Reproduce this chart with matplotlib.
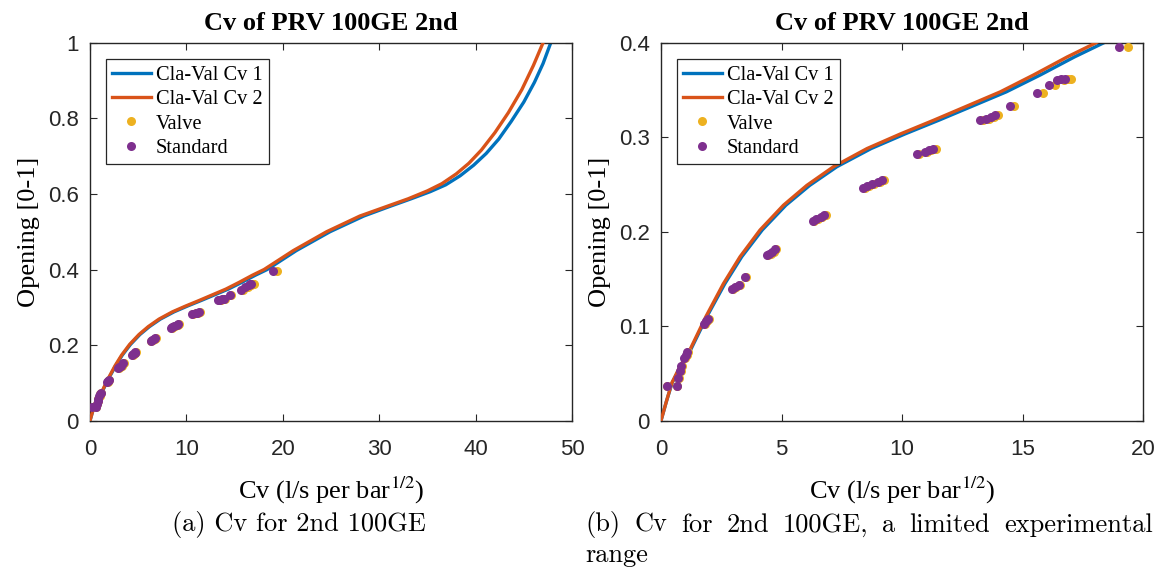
import matplotlib
matplotlib.use("Agg")
import matplotlib.pyplot as plt

# ---------------- data ----------------
# Cla-Val Cv 1 (blue)
cv1_x = [0, 0.22, 0.46, 0.82, 1.23, 1.9, 2.65, 3.35, 4.2, 5.18, 6.17, 7.3, 8.72, 10.12,
         11.53, 12.93, 14.33, 15.75, 17.16, 18.38, 21.4, 24.9, 28.4, 31.0, 33.3, 35.3,
         36.9, 38.4, 39.8, 41.1, 42.4, 43.7, 45.0, 46.1, 47.0, 47.8]
cv1_y = [0, 0.02, 0.04, 0.058, 0.075, 0.110, 0.145, 0.1735, 0.2018, 0.228, 0.249, 0.2688,
         0.288, 0.3034, 0.318, 0.333, 0.348, 0.366, 0.385, 0.400, 0.450, 0.500, 0.5415,
         0.566, 0.587, 0.606, 0.624, 0.648, 0.676, 0.707, 0.745, 0.792, 0.843, 0.895,
         0.945, 1.0]
# Cla-Val Cv 2 (orange)
cv2_x = [0, 0.22, 0.45, 0.8, 1.2, 1.86, 2.59, 3.28, 4.11, 5.08, 6.05, 7.16, 8.55, 9.93,
         11.32, 12.7, 14.08, 15.47, 16.86, 18.06, 21.09, 24.55, 28.0, 31.46, 33.0, 35.0,
         36.5, 38.0, 39.3, 40.6, 42.0, 43.4, 44.8, 46.0, 47.0]
cv2_y = [0, 0.02, 0.04, 0.058, 0.075, 0.110, 0.145, 0.1735, 0.2018, 0.228, 0.249, 0.2688,
         0.288, 0.3034, 0.318, 0.333, 0.348, 0.366, 0.385, 0.400, 0.450, 0.500, 0.5415,
         0.573, 0.587, 0.608, 0.627, 0.653, 0.681, 0.716, 0.762, 0.815, 0.876, 0.940, 1.0]

# Measured points
standard_x = [0.24, 0.65, 0.72, 0.79, 0.85, 0.97, 1.05, 1.09, 1.78, 1.85, 1.94, 2.95, 3.05,
              3.22, 3.47, 4.40, 4.50, 4.62, 4.71, 6.30, 6.45, 6.62, 6.75, 8.40, 8.55, 8.75,
              9.00, 9.17, 10.62, 10.95, 11.10, 11.30, 13.25, 13.50, 13.70, 13.85, 14.50,
              15.62, 16.10, 16.45, 16.60, 16.75, 19.00]
standard_y = [0.037, 0.037, 0.045, 0.053, 0.058, 0.066, 0.070, 0.073, 0.102, 0.105, 0.108,
              0.139, 0.141, 0.144, 0.152, 0.175, 0.176, 0.179, 0.182, 0.211, 0.213, 0.216,
              0.218, 0.246, 0.248, 0.251, 0.253, 0.255, 0.282, 0.284, 0.286, 0.288, 0.318,
              0.319, 0.321, 0.323, 0.333, 0.347, 0.355, 0.360, 0.362, 0.362, 0.395]
valve_x = [0.26, 0.67, 0.74, 0.81, 0.87, 0.99, 1.07, 1.12, 1.82, 1.89, 1.98, 3.00, 3.10,
           3.27, 3.52, 4.45, 4.56, 4.68, 4.78, 6.36, 6.52, 6.70, 6.84, 8.47, 8.62, 8.83,
           9.08, 9.26, 10.70, 11.04, 11.20, 11.42, 13.36, 13.62, 13.82, 14.00, 14.66,
           15.84, 16.36, 16.72, 16.90, 17.02, 19.38]
valve_y = standard_y

titles = ["Cv of PRV 100GE 2nd", "Cv of PRV 100GE 2nd"]
xlims = [(0, 50), (0, 20)]
ylims = [(0, 1), (0, 0.4)]
xticks = [[0, 10, 20, 30, 40, 50], [0, 5, 10, 15, 20]]
yticks = [[0, 0.2, 0.4, 0.6, 0.8, 1.0], [0, 0.1, 0.2, 0.3, 0.4]]
yticklabels = [["0", "0.2", "0.4", "0.6", "0.8", "1"], ["0", "0.1", "0.2", "0.3", "0.4"]]
caption_a = "(a) Cv for 2nd 100GE"
caption_b_line1 = ["(b)", "Cv", "for", "2nd", "100GE,", "a", "limited", "experimental"]
caption_b_line2 = "range"

# ---------------- style ----------------
plt.rcParams["mathtext.fontset"] = "stix"
SERIF = "Liberation Serif"
SANS = "Liberation Sans"
C_BLUE = "#0072BD"
C_ORANGE = "#D95319"
C_YELLOW = "#EDB120"
C_PURPLE = "#7E2F8E"
AX_COL = "#262626"

fig = plt.figure(figsize=(11.58, 5.74), dpi=100)
W, H = 1158, 574
positions = [[90 / W, (H - 420.7) / H, 482 / W, 378 / H],
             [661 / W, (H - 420.7) / H, 482 / W, 378 / H]]

for i in range(2):
    ax = fig.add_axes(positions[i])
    ax.plot(cv1_x, cv1_y, color=C_BLUE, lw=2.4, label="Cla-Val Cv 1", zorder=2)
    ax.plot(cv2_x, cv2_y, color=C_ORANGE, lw=2.4, label="Cla-Val Cv 2", zorder=3)
    ax.plot(valve_x, valve_y, "o", color=C_YELLOW, ms=6.5, mew=0, label="Valve", zorder=4)
    ax.plot(standard_x, standard_y, "o", color=C_PURPLE, ms=6.5, mew=0, label="Standard", zorder=5)
    ax.set_xlim(*xlims[i])
    ax.set_ylim(*ylims[i])
    ax.set_xticks(xticks[i])
    ax.set_xticklabels([str(v) for v in xticks[i]], fontfamily=SANS, fontsize=16, color=AX_COL)
    ax.set_yticks(yticks[i])
    ax.set_yticklabels(yticklabels[i], fontfamily=SANS, fontsize=16, color=AX_COL)
    ax.tick_params(direction="in", top=True, right=True, length=5, width=0.8, color=AX_COL)
    ax.tick_params(axis="x", pad=13)
    ax.tick_params(axis="y", pad=8)
    for s in ax.spines.values():
        s.set_color(AX_COL)
        s.set_linewidth(1.0)
    ax.set_title(titles[i], fontfamily=SERIF, fontweight="bold", fontsize=19, pad=9)
    ax.set_xlabel("Cv (l/s per bar$^{1/2}$)", fontfamily=SERIF, fontsize=19, labelpad=11)
    ax.set_ylabel("Opening [0-1]", fontfamily=SERIF, fontsize=19, labelpad=6)
    leg = ax.legend(loc="upper left", bbox_to_anchor=(0.033, 0.956), borderaxespad=0,
                    prop={"family": SERIF, "size": 14.7}, frameon=True, fancybox=False,
                    framealpha=1, edgecolor=AX_COL, handlelength=1.9, handletextpad=0.25,
                    labelspacing=0.25, borderpad=0.3)
    leg.get_frame().set_linewidth(0.9)

# captions
CAP = dict(fontfamily="cmr10", fontsize=19, va="center", ha="left", color="black")
fig.text(172 / W, (H - 525) / H, caption_a, **CAP)

# justified first line of caption (b) between x=585 and x=1153 px
renderer = fig.canvas.get_renderer()
words = []
for wtxt in caption_b_line1:
    t = fig.text(0, (H - 525) / H, wtxt, **CAP)
    words.append(t)
widths = [t.get_window_extent(renderer).width for t in words]
x_left, x_right = 585.0, 1153.0
gap = (x_right - x_left - sum(widths)) / (len(words) - 1)
xp = x_left
for t, wd in zip(words, widths):
    t.set_x(xp / W)
    xp += wd + gap
fig.text(585 / W, (H - 555) / H, caption_b_line2, **CAP)

fig.savefig("out.png", dpi=100)
